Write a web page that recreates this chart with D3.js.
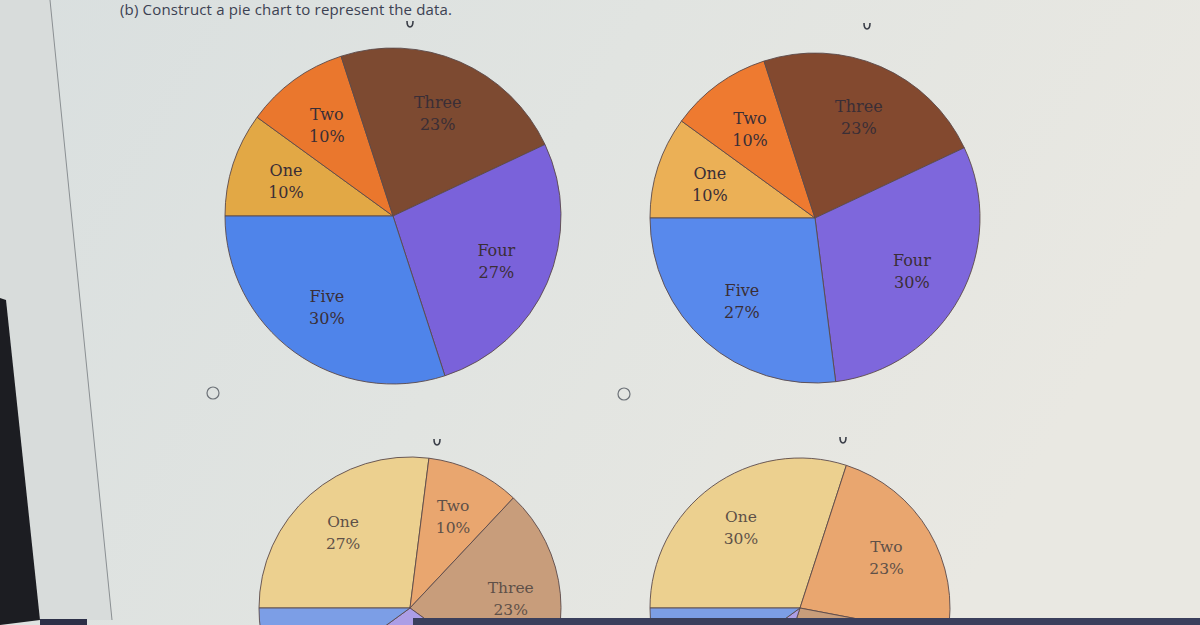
<!DOCTYPE html>
<html><head><meta charset="utf-8">
<script src="https://cdn.jsdelivr.net/npm/d3@7/dist/d3.min.js"></script>
<style>html,body{margin:0;padding:0;overflow:hidden;background:#e2e5e2}</style>
</head><body>
<svg id="c" width="1200" height="625"></svg>
<script>
// ---- data ----
const categories = ["One", "Two", "Three", "Four", "Five"];
const pieA = [10, 10, 23, 27, 30];   // top-left
const pieB = [10, 10, 23, 30, 27];   // top-right
const pieC = [27, 10, 23, 30, 10];   // bottom-left (partly hidden)
const pieD = [30, 23, 27, 10, 10];   // bottom-right (partly hidden)
const titleText = "(b) Construct a pie chart to represent the data.";

const darkColors = ["#e2a845", "#ea772d", "#7d4a31", "#7a62da", "#4f84ea"];
const darkColorsB = ["#ebb056", "#ee7a30", "#83492f", "#7e67dc", "#5889ec"];
const lightColors = ["#ecd08f", "#e9a66f", "#c89d7b", "#ac9ee6", "#7c9ee6"];

const W = 1200, H = 625;
const svg = d3.select("#c");

// background
const defs = svg.append("defs");
const g = defs.append("linearGradient").attr("id","bg").attr("x1","0").attr("y1","0").attr("x2","1").attr("y2","0.3");
g.append("stop").attr("offset","0").attr("stop-color","#d9dfdf");
g.append("stop").attr("offset","0.5").attr("stop-color","#e1e4e1");
g.append("stop").attr("offset","1").attr("stop-color","#e9e8e2");
svg.append("rect").attr("width",W).attr("height",H).attr("fill","url(#bg)");
svg.append("path").attr("d","M0,0 L50,0 L112,620 L0,620 Z").attr("fill","#d8dcdb");
svg.append("line").attr("x1",50).attr("y1",0).attr("x2",112).attr("y2",620)
  .attr("stroke","#8a8f92").attr("stroke-width",1);
svg.append("path").attr("d","M0,298 L6,300 L40,620 L0,625 Z").attr("fill","#1c1d22");

// title
svg.append("text").attr("x",120).attr("y",15).attr("font-family","Open Sans, DejaVu Sans, sans-serif")
  .attr("font-size",15).attr("fill","#3c4152").attr("textLength",332).text(titleText);

function drawPie(values, colors, cx, cy, r, fs, textColor) {
  const arc = d3.arc().innerRadius(0).outerRadius(r);
  const lab = d3.arc().innerRadius(r*0.67).outerRadius(r*0.67);
  const arcs = d3.pie().sort(null).value(d=>d.v).startAngle(-Math.PI/2).endAngle(3*Math.PI/2)(
    values.map((v,i)=>({name:categories[i], v, c:colors[i]})));
  const grp = svg.append("g").attr("transform",`translate(${cx},${cy})`);
  grp.selectAll("path").data(arcs).join("path")
    .attr("d",arc).attr("fill",d=>d.data.c)
    .attr("stroke","#5b4a4a").attr("stroke-width",0.9);
  // only labels that fall inside the visible screen
  const visible = arcs.filter(d => cy + lab.centroid(d)[1] + 20 < H);
  const t = grp.selectAll("text").data(visible).join("text")
    .attr("transform",d=>`translate(${lab.centroid(d)})`)
    .attr("text-anchor","middle").attr("font-family","DejaVu Serif, serif")
    .attr("font-size",fs).attr("fill",textColor);
  t.append("tspan").attr("x",0).attr("y",-5).text(d=>d.data.name);
  t.append("tspan").attr("x",0).attr("y",17).text(d=>d.data.v+"%");
}

drawPie(pieA, darkColors, 393, 216, 168, 16, "#3a2e36");
drawPie(pieB, darkColorsB, 815, 218, 165, 16, "#3a2e36");
drawPie(pieC, lightColors, 410, 608, 151, 15.5, "#5e5048");
drawPie(pieD, lightColors, 800, 608, 150, 15.5, "#5e5048");

// small marks
[[410,24],[867,26],[437,442],[843,440]].forEach(([x,y])=>{
  svg.append("path").attr("d",`M${x-3},${y-3} Q${x-3},${y+3} ${x},${y+3} Q${x+3},${y+3} ${x+3},${y-3}`)
    .attr("fill","none").attr("stroke","#3a3e48").attr("stroke-width",1.6);
});
// radio circles
[[213,393],[624,394]].forEach(([x,y])=>{
  svg.append("circle").attr("cx",x).attr("cy",y).attr("r",6)
    .attr("fill","none").attr("stroke","#6d7278").attr("stroke-width",1.2);
});

// bottom bezel
svg.append("rect").attr("x",413).attr("y",618).attr("width",787).attr("height",7).attr("fill","#3a3f5c");
svg.append("rect").attr("x",40).attr("y",619).attr("width",47).attr("height",6).attr("fill","#2c3048");
</script>
</body></html>
